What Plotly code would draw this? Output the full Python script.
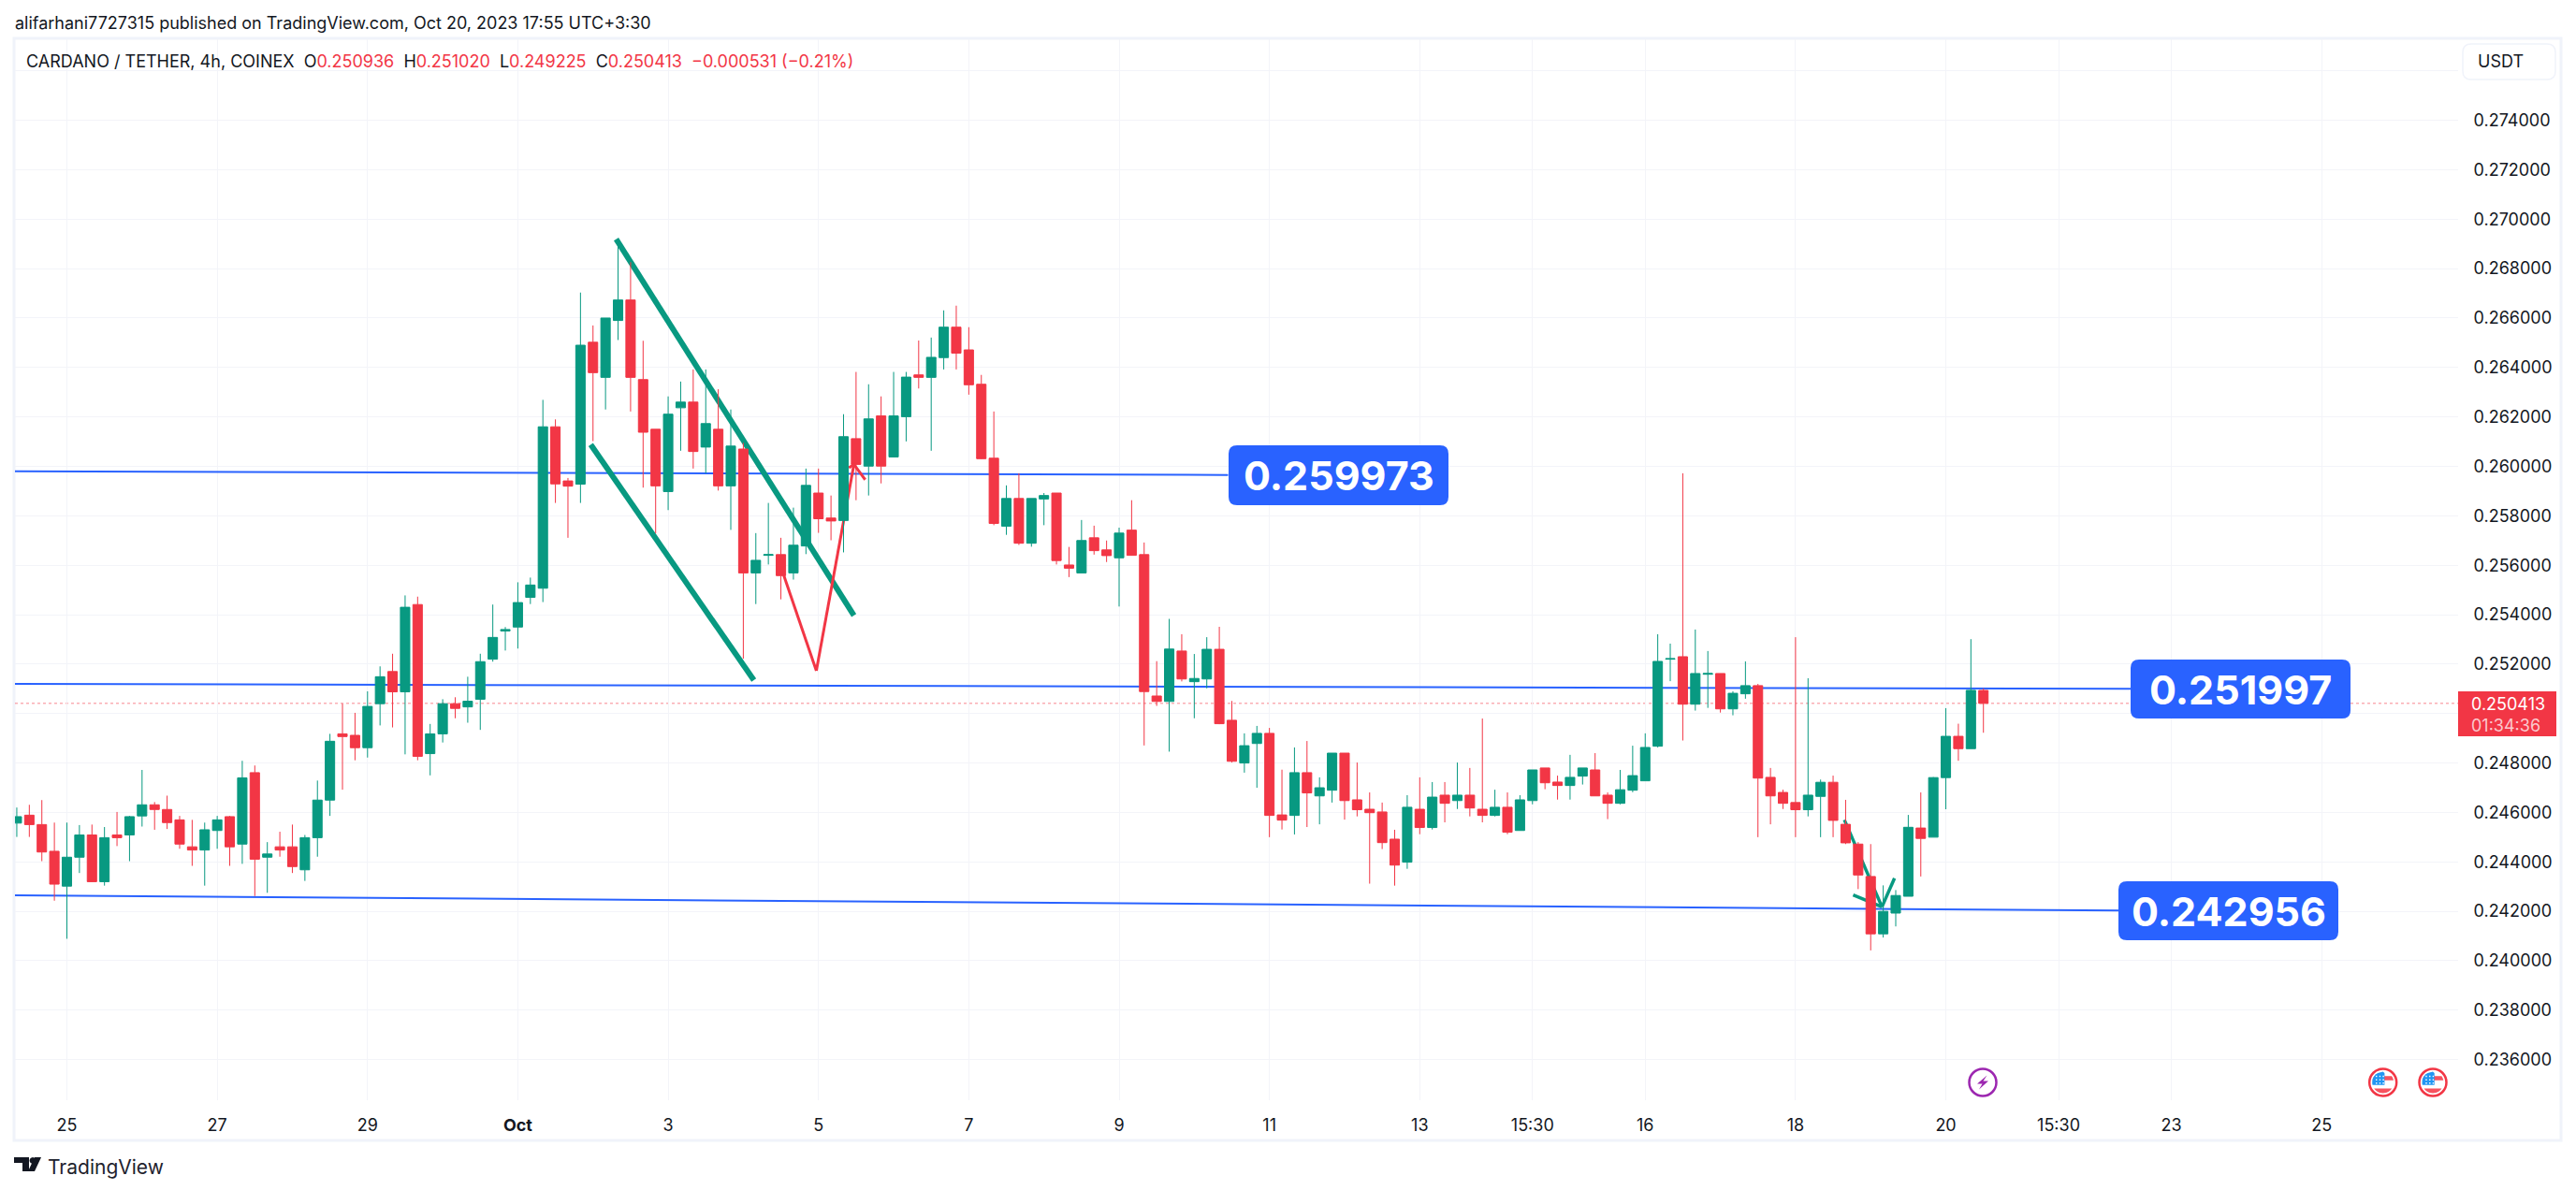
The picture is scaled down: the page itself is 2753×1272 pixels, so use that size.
import math
import plotly.graph_objects as go

opens = [0.24557,0.24589,0.24551,0.24443,0.24302,0.24419,0.24509,0.24320,0.24509,0.24509,
0.24586,0.24631,0.24612,0.24570,0.24461,0.24448,0.24527,0.24583,0.24472,0.24761,
0.24419,0.24461,0.24461,0.24368,0.24498,0.24650,0.24918,0.24912,0.24862,0.25040,
0.25170,0.25088,0.25441,0.24838,0.24918,0.25040,0.25027,0.25058,0.25220,0.25334,
0.25350,0.25470,0.25507,0.26160,0.25941,0.25928,0.26502,0.26360,0.26590,0.26673,
0.26351,0.26150,0.25898,0.26237,0.26260,0.26078,0.26150,0.25921,0.26070,0.25569,
0.25640,0.25643,0.25569,0.25678,0.25892,0.25791,0.25781,0.26112,0.26001,0.26204,
0.26038,0.26201,0.26370,0.26360,0.26440,0.26563,0.26471,0.26332,0.26033,0.25758,
0.25870,0.25689,0.25868,0.25892,0.25601,0.25569,0.25711,0.25662,0.25630,0.25742,
0.25643,0.25071,0.25049,0.25253,0.25129,0.25140,0.25260,0.24973,0.24800,0.24879,
0.24920,0.24590,0.24588,0.24761,0.24667,0.24690,0.24840,0.24651,0.24613,0.24602,
0.24492,0.24399,0.24613,0.24539,0.24670,0.24648,0.24670,0.24613,0.24588,0.24621,
0.24527,0.24648,0.24780,0.24723,0.24709,0.24747,0.24772,0.24670,0.24637,0.24690,
0.24728,0.24868,0.25220,0.25230,0.25038,0.25159,0.25162,0.25019,0.25080,0.25113,
0.24742,0.24681,0.24640,0.24611,0.24665,0.24722,0.24552,0.24472,0.24341,0.24109,
0.24193,0.24261,0.24537,0.24500,0.24741,0.24908,0.24858,0.250936]
highs = [0.24620,0.24631,0.24650,0.24559,0.24559,0.24549,0.24551,0.24541,0.24602,0.24586,
0.24772,0.24642,0.24668,0.24586,0.24570,0.24559,0.24586,0.24586,0.24809,0.24790,
0.24480,0.24522,0.24551,0.24509,0.24729,0.24918,0.25040,0.25003,0.25090,0.25191,
0.25242,0.25478,0.25473,0.24958,0.25058,0.25066,0.25149,0.25242,0.25441,0.25350,
0.25531,0.25550,0.26269,0.26190,0.25953,0.26703,0.26570,0.26600,0.26913,0.26826,
0.26508,0.26150,0.26283,0.26343,0.26392,0.26392,0.26312,0.26230,0.26095,0.25730,
0.25852,0.25711,0.25833,0.25991,0.25991,0.25882,0.26211,0.26382,0.26332,0.26283,
0.26382,0.26382,0.26509,0.26521,0.26631,0.26650,0.26563,0.26370,0.26222,0.25923,
0.25972,0.25870,0.25892,0.25892,0.25674,0.25783,0.25760,0.25700,0.25752,0.25863,
0.25692,0.25212,0.25383,0.25321,0.25241,0.25309,0.25351,0.25051,0.24920,0.24950,
0.24942,0.24773,0.24863,0.24889,0.24742,0.24840,0.24840,0.24802,0.24681,0.24640,
0.24530,0.24670,0.24742,0.24723,0.24723,0.24802,0.24780,0.24980,0.24692,0.24681,
0.24670,0.24772,0.24780,0.24749,0.24833,0.24780,0.24840,0.24681,0.24772,0.24870,
0.24920,0.25321,0.25283,0.25972,0.25340,0.25253,0.25162,0.25090,0.25211,0.25120,
0.24780,0.24692,0.25309,0.25143,0.24733,0.24749,0.24651,0.24480,0.24472,0.24305,
0.24286,0.24590,0.24681,0.24743,0.25022,0.24959,0.25301,0.251020]
lows = [0.24501,0.24501,0.24403,0.24243,0.24089,0.24355,0.24318,0.24304,0.24464,0.24403,
0.24543,0.24530,0.24533,0.24453,0.24384,0.24304,0.24453,0.24384,0.24392,0.24262,
0.24275,0.24421,0.24355,0.24323,0.24421,0.24586,0.24692,0.24811,0.24822,0.24952,
0.24944,0.24835,0.24811,0.24750,0.24883,0.24981,0.24963,0.24934,0.25210,0.25255,
0.25263,0.25443,0.25451,0.25852,0.25711,0.25852,0.26102,0.26230,0.26511,0.26222,
0.25914,0.25729,0.25823,0.26063,0.25991,0.25972,0.25902,0.25743,0.25222,0.25443,
0.25603,0.25462,0.25542,0.25645,0.25731,0.25701,0.25652,0.25863,0.25882,0.25931,
0.26037,0.26101,0.26315,0.26063,0.26392,0.26392,0.26290,0.26030,0.25762,0.25723,
0.25682,0.25675,0.25762,0.25603,0.25552,0.25569,0.25643,0.25613,0.25433,0.25639,
0.24871,0.25031,0.24846,0.25130,0.24981,0.25102,0.24957,0.24802,0.24761,0.24700,
0.24500,0.24531,0.24511,0.24541,0.24552,0.24640,0.24571,0.24584,0.24312,0.24452,
0.24304,0.24372,0.24512,0.24531,0.24560,0.24614,0.24584,0.24560,0.24584,0.24512,
0.24527,0.24633,0.24694,0.24652,0.24652,0.24713,0.24667,0.24573,0.24633,0.24682,
0.24728,0.24863,0.25131,0.24891,0.25012,0.25023,0.25004,0.24993,0.25060,0.24500,
0.24552,0.24614,0.24500,0.24584,0.24500,0.24500,0.24472,0.24290,0.24042,0.24094,
0.24139,0.24261,0.24341,0.24500,0.24613,0.24809,0.24858,0.249225]
closes = [0.24583,0.24551,0.24440,0.24310,0.24419,0.24509,0.24320,0.24498,0.24498,0.24583,
0.24631,0.24612,0.24559,0.24472,0.24448,0.24530,0.24570,0.24461,0.24740,0.24411,
0.24432,0.24448,0.24381,0.24498,0.24650,0.24888,0.24907,0.24862,0.25029,0.25149,
0.25088,0.25430,0.24827,0.24918,0.25040,0.25021,0.25050,0.25210,0.25308,0.25340,
0.25449,0.25520,0.26160,0.25929,0.25920,0.26490,0.26379,0.26600,0.26673,0.26360,
0.26138,0.25921,0.26211,0.26260,0.26060,0.26173,0.25921,0.26082,0.25569,0.25620,
0.25643,0.25558,0.25681,0.25923,0.25788,0.25779,0.26120,0.26008,0.26192,0.26001,
0.26204,0.26361,0.26360,0.26441,0.26563,0.26458,0.26330,0.26031,0.25769,0.25870,
0.25689,0.25870,0.25882,0.25619,0.25588,0.25700,0.25659,0.25639,0.25730,0.25640,
0.25089,0.25049,0.25261,0.25140,0.25142,0.25260,0.24959,0.24807,0.24870,0.24920,
0.24588,0.24569,0.24761,0.24679,0.24700,0.24840,0.24648,0.24611,0.24599,0.24478,
0.24387,0.24621,0.24539,0.24662,0.24637,0.24670,0.24618,0.24588,0.24621,0.24520,
0.24651,0.24772,0.24720,0.24709,0.24742,0.24780,0.24667,0.24637,0.24692,0.24749,
0.24863,0.25211,0.25222,0.25038,0.25162,0.25162,0.25019,0.25082,0.25113,0.24739,
0.24667,0.24637,0.24611,0.24670,0.24722,0.24568,0.24477,0.24347,0.24109,0.24200,
0.24264,0.24540,0.24495,0.24741,0.24908,0.24858,0.25094,0.250413]
bars = list(range(len(opens)))

tick_bars = [4,16,28,40,52,64,76,88,100,112,121,130,142,154,163,172,184]
tick_text = ["25","27","29","<b>Oct</b>","3","5","7","9","11","13","15:30","16","18","20","15:30","23","25"]
price_ticks = [0.236,0.238,0.240,0.242,0.244,0.246,0.248,0.250,0.252,0.254,0.256,0.258,0.260,0.262,0.264,0.266,0.268,0.270,0.272,0.274,0.276]
# 0.250000 is covered by the last-price tag and 0.276000 by the currency button in the reference
hidden_ticks = [0.250, 0.276]
price_text = ["" if p in hidden_ticks else "%.6f" % p for p in price_ticks]

last_price = 0.250413
countdown = "01:34:36"
level_labels = ["0.259973","0.251997","0.242956"]
level_x0 = [-0.146,-0.146,-0.146]
level_x1 = [96.7,168.8,167.8]
level_y0 = [0.25980,0.25120,0.24265]
level_y1 = [0.25965,0.25100,0.24203]
channel_x = [[47.85,66.83],[45.82,58.84]]
channel_y = [[0.26919,0.25397],[0.26088,0.25135]]
red_x = [61.23,63.83,66.83,67.73]
red_y = [0.25559,0.25173,0.26008,0.25946]
red_wing_x = [66.43,66.83]
red_wing_y = [0.25994,0.26008]
green_x = [145.9,148.9,149.9]
green_y = [0.24570,0.24218,0.24334]
green_wing_x = [146.6,148.9]
green_wing_y = [0.24266,0.24218]

W, H = 2753, 1272
L, R, T, B = 16, 2627, 42, 1176
UP, DOWN, BLUE = "#089981", "#f23645", "#2962ff"
INK, GRID = "#131722", "#f3f4f9"
FONT = "Inter"

def px(x): return (x - L) / (R - L)
def py(y): return (B - y) / (B - T)
def P(x, y): return f"{px(x):.6f},{py(y):.6f}"

def rounded(x0, y0, x1, y1, r):
    return (f"M{P(x0+r,y0)} L{P(x1-r,y0)} Q{P(x1,y0)} {P(x1,y0+r)} L{P(x1,y1-r)} Q{P(x1,y1)} {P(x1-r,y1)} "
            f"L{P(x0+r,y1)} Q{P(x0,y1)} {P(x0,y1-r)} L{P(x0,y0+r)} Q{P(x0,y0)} {P(x0+r,y0)} Z")

def poly(pts):
    return "M" + " L".join(P(a, b) for a, b in pts) + " Z"

def circle_band(cx, cy, r, x0, x1, y0, y1, n=10):
    right, left = [], []
    for k in range(n + 1):
        y = y0 + (y1 - y0) * k / n
        w = math.sqrt(max(r * r - y * y, 0))
        right.append((cx + min(x1, w), cy + y))
        left.append((cx + max(x0, -w), cy + y))
    return poly(right + left[::-1])

shapes = []
def paper(**kw):
    shapes.append(dict(xref="paper", yref="paper", **kw))
def area(path, color):
    paper(type="path", path=path, fillcolor=color, line=dict(width=0), layer="above")
def data_line(xs, ys, color, width):
    for a in range(len(xs) - 1):
        shapes.append(dict(type="line", xref="x", yref="y", x0=xs[a], x1=xs[a+1], y0=ys[a], y1=ys[a+1],
                           line=dict(color=color, width=width), layer="between"))

# chart frame
paper(type="rect", x0=px(15), x1=px(2737), y0=py(41), y1=py(1219), line=dict(color="#f0f3fa", width=3), layer="below")

# last price line
shapes.append(dict(type="line", xref="paper", yref="y", x0=0, x1=1, y0=last_price, y1=last_price,
                   line=dict(color="rgba(242,54,69,0.6)", width=1, dash="dot"), layer="between"))
# levels and drawings (they sit behind the candles in the reference)
for a in range(3):
    data_line([level_x0[a], level_x1[a]], [level_y0[a], level_y1[a]], BLUE, 2)
for xs, ys in zip(channel_x, channel_y):
    data_line(xs, ys, UP, 6)
data_line(red_x, red_y, DOWN, 3)
data_line(red_wing_x, red_wing_y, DOWN, 3)
data_line(green_x, green_y, UP, 3.5)
data_line(green_wing_x, green_wing_y, UP, 3.5)

# level labels
label_boxes = [(1313,476,1548,540),(2277,705,2512,768),(2264,942,2499,1005)]
annotations = []
def text(x, y, s, size, color=INK, anchor="left", weight=None):
    f = dict(family=FONT, size=size, color=color)
    if weight: f["weight"] = weight
    annotations.append(dict(xref="paper", yref="paper", x=px(x), y=py(y), text=s, showarrow=False,
                            xanchor=anchor, yanchor="middle", font=f, borderpad=0, align="left"))
for box, lab in zip(label_boxes, level_labels):
    area(rounded(*box, 9), BLUE)
    text((box[0]+box[2])/2, (box[1]+box[3])/2, lab, 43, "#ffffff", "center", 700)

# last price tag
area(poly([(2627,739),(2732,739),(2732,787),(2627,787)]), DOWN)
text(2640, 763.5, f'{last_price:.6f}<br><span style="color:#fbc9ce">{countdown}</span>', 18, "#ffffff")

# currency button
paper(type="path", path=rounded(2632,47,2731,85,9), fillcolor="#ffffff", line=dict(color="#f0f3fa", width=1.5), layer="above")
text(2647, 65, "USDT", 18)

# header texts
text(15, 24, "alifarhani7727315 published on TradingView.com, Oct 20, 2023 17:55 UTC+3:30", 18)
red = lambda s: f'<span style="color:{DOWN}">{s}</span>'
nb = "\u00a0\u00a0"
text(27, 65, f"CARDANO / TETHER, 4h, COINEX{nb}O{red('0.250936')}{nb}H{red('0.251020')}{nb}L{red('0.249225')}{nb}C{red('0.250413')}{nb}{red('\u22120.000531 (\u22120.21%)')}", 18)

# TradingView mark
area(poly([(15,1237),(31,1237),(31,1252),(24,1252),(24,1243),(15,1243)]), INK)
area(circle_band(35, 1240.5, 3.4, -4, 4, -3.4, 3.4), INK)
area(poly([(37,1252),(30,1252),(37,1237),(44,1237)]), INK)
text(50, 1247, "TradingView", 21, "#1e222d")

# event icons
for cx in (2546.7, 2600):
    cy = 1157
    paper(type="circle", x0=px(cx-14.5), x1=px(cx+14.5), y0=py(cy+14.5), y1=py(cy-14.5),
          fillcolor="#ffffff", line=dict(color=DOWN, width=2.5), layer="above")
    area(circle_band(cx, cy, 11.5, -11.5, 11.5, -6.7, -2.3), "#f7525f")
    area(circle_band(cx, cy, 11.5, -11.5, 11.5, 6.5, 11.5), "#f7525f")
    area(circle_band(cx, cy, 11.5, -11.5, 1.7, -11.5, 2.7), "#2196f3")
    for dx in (-7, -3.2, 0.4):
        for dy in (-6.5, -2.8, 0.8):
            area(poly([(cx+dx-.7,cy+dy-.7),(cx+dx+.7,cy+dy-.7),(cx+dx+.7,cy+dy+.7),(cx+dx-.7,cy+dy+.7)]), "#ffffff")
cx, cy = 2119, 1157
paper(type="circle", x0=px(cx-14.5), x1=px(cx+14.5), y0=py(cy+14.5), y1=py(cy-14.5),
      fillcolor="#ffffff", line=dict(color="#9c27b0", width=2.5), layer="above")
area(poly([(cx+a, cy+b) for a, b in [(4.5,-7.5),(-6,1.5),(-0.5,1.5),(-4,7.5),(6,-1.5),(0.5,-1.5)]]), "#9c27b0")

fig = go.Figure(go.Candlestick(
    x=bars, open=opens, high=highs, low=lows, close=closes, whiskerwidth=0,
    increasing=dict(line=dict(color=UP, width=1), fillcolor=UP),
    decreasing=dict(line=dict(color=DOWN, width=1), fillcolor=DOWN),
    showlegend=False, hoverinfo="skip",
))
fig.update_layout(
    width=W, height=H, autosize=False,
    margin=dict(l=L, r=W-R, t=T, b=H-B, pad=0),
    paper_bgcolor="#ffffff", plot_bgcolor="#ffffff",
    boxgap=0.25, boxgroupgap=0, showlegend=False,
    shapes=shapes, annotations=annotations,
    font=dict(family=FONT, size=18, color=INK),
    xaxis=dict(range=[(L-17.95)/13.387, (R-17.95)/13.387], rangeslider=dict(visible=False),
               tickmode="array", tickvals=tick_bars, ticktext=tick_text,
               showgrid=True, gridcolor=GRID, gridwidth=1, zeroline=False, showline=False,
               ticks="outside", ticklen=10, tickcolor="rgba(0,0,0,0)", tickangle=0,
               tickfont=dict(family=FONT, size=18, color=INK)),
    yaxis=dict(range=[0.234361, 0.277275], side="right",
               tickmode="array", tickvals=price_ticks, ticktext=price_text,
               showgrid=True, gridcolor=GRID, gridwidth=1, zeroline=False, showline=False,
               ticks="outside", ticklen=12, tickcolor="rgba(0,0,0,0)",
               tickfont=dict(family=FONT, size=18, color=INK)),
)
fig.write_html("out.html", config=dict(displayModeBar=False), post_script="document.body.style.margin='0';")
